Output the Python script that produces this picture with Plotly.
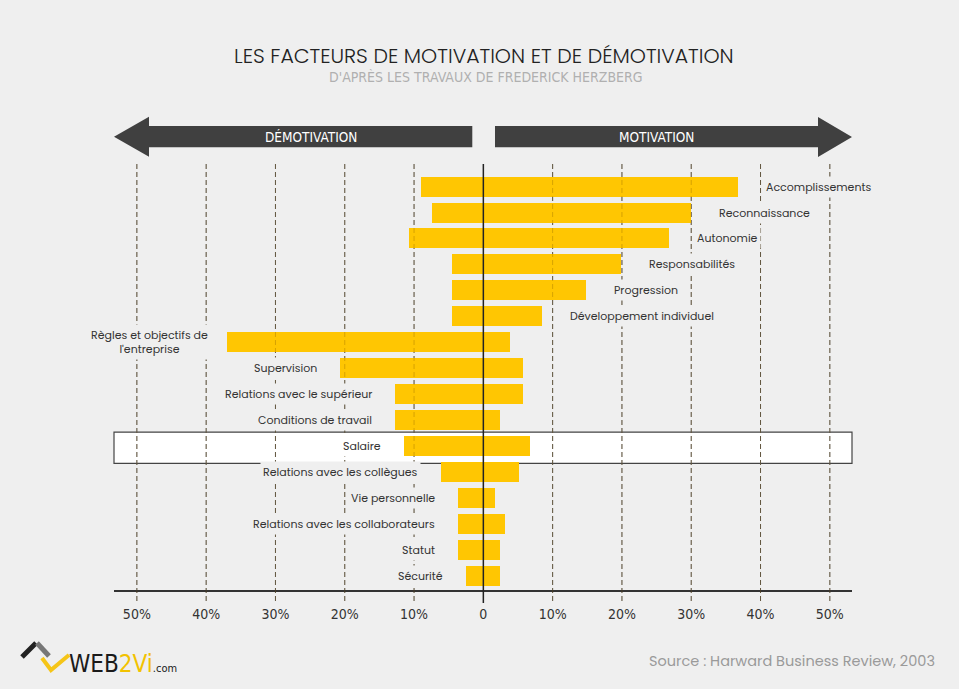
import plotly.graph_objects as go

# ---------------- data ----------------
categories = [
    "Accomplissements", "Reconnaissance", "Autonomie", "Responsabilités",
    "Progression", "Développement individuel", "Règles et objectifs de<br>l'entreprise",
    "Supervision", "Relations avec le supérieur", "Conditions de travail", "Salaire",
    "Relations avec les collègues", "Vie personnelle", "Relations avec les collaborateurs",
    "Statut", "Sécurité",
]
demotivation = [9.0, 7.4, 10.8, 4.5, 4.5, 4.5, 37.0, 20.7, 12.8, 12.8, 11.4, 6.1, 3.6, 3.6, 3.6, 2.5]
motivation = [36.8, 30.0, 26.8, 19.9, 14.8, 8.4, 3.9, 5.7, 5.7, 2.4, 6.7, 5.2, 1.7, 3.1, 2.4, 2.4]
tick_values = [-50, -40, -30, -20, -10, 0, 10, 20, 30, 40, 50]
tick_labels = ["50%", "40%", "30%", "20%", "10%", "0", "10%", "20%", "30%", "40%", "50%"]
highlight = "Salaire"

title = "LES FACTEURS DE MOTIVATION ET DE DÉMOTIVATION"
subtitle = "D'APRÈS LES TRAVAUX DE FREDERICK HERZBERG"
left_arrow_text = "DÉMOTIVATION"
right_arrow_text = "MOTIVATION"
source_text = "Source : Harward Business Review, 2003"

# ---------------- style / geometry ----------------
W, H = 959, 689
L, R, T, B = 114, 107, 163, 99
PW, PH = W - L - R, H - T - B
BG = "#efefef"
YELLOW = "#ffc602"
DARK = "#404040"
SANS = "Poppins, Inter, sans-serif"
NARROW = "Liberation Sans Narrow, DejaVu Sans Condensed, Arial Narrow, sans-serif"


def px(x):
    return (x - L) / PW


def py(y):
    return (H - B - y) / PH


ypos = list(range(len(categories)))
totals = [d + m for d, m in zip(demotivation, motivation)]
bases = [-d for d in demotivation]

fig = go.Figure()
fig.add_trace(go.Bar(
    y=ypos, x=totals, base=bases, orientation="h",
    marker=dict(color=YELLOW, line=dict(width=0)),
    width=0.77, hoverinfo="skip", showlegend=False,
))

shapes = []
hi = categories.index(highlight)
shapes.append(dict(type="rect", xref="paper", yref="y", x0=0, x1=1,
                   y0=hi - 0.53, y1=hi + 0.67, fillcolor="white",
                   line=dict(color="#444", width=1.2), layer="below"))
for v in tick_values:
    if v == 0:
        continue
    shapes.append(dict(type="line", xref="x", yref="paper", x0=v, x1=v,
                       y0=py(601), y1=py(162),
                       line=dict(color="#5a5a5a", width=1, dash="5px,3px"), layer="below"))
    shapes.append(dict(type="line", xref="x", yref="paper", x0=v, x1=v,
                       y0=py(601), y1=py(162),
                       line=dict(color="rgba(120,80,0,0.3)", width=1, dash="5px,3px"), layer="above"))
shapes.append(dict(type="line", xref="x", yref="paper", x0=0, x1=0,
                   y0=py(603), y1=py(164), line=dict(color="#222", width=1.5), layer="above"))


def poly(points):
    return "M " + " L ".join(f"{px(a):.5f},{py(b):.5f}" for a, b in points) + " Z"


left_arrow = [(114, 136.7), (149, 116.7), (149, 126), (472.3, 126), (472.3, 147.3),
              (149, 147.3), (149, 156.7)]
right_arrow = [(495, 126), (818, 126), (818, 117), (852, 137), (818, 157), (818, 147.3),
               (495, 147.3)]
for pts in (left_arrow, right_arrow):
    shapes.append(dict(type="path", xref="paper", yref="paper", path=poly(pts),
                       fillcolor=DARK, line=dict(width=0), layer="above"))

# logo glyph
shapes.append(dict(type="line", xref="paper", yref="paper", x0=px(22), y0=py(657),
                   x1=px(36), y1=py(643), line=dict(color="#222", width=5)))
shapes.append(dict(type="line", xref="paper", yref="paper", x0=px(37), y0=py(643),
                   x1=px(49), y1=py(656), line=dict(color="#777", width=5)))
shapes.append(dict(type="path", xref="paper", yref="paper",
                   path=f"M {px(42):.5f},{py(658):.5f} L {px(51):.5f},{py(670):.5f} L {px(69):.5f},{py(655):.5f}",
                   line=dict(color="#f5c518", width=4)))

annotations = []
for i, (c, d, m) in enumerate(zip(categories, demotivation, motivation)):
    right_side = m >= d
    annotations.append(dict(
        x=m if right_side else -d, y=i, xref="x", yref="y",
        text=c, showarrow=False,
        xanchor="left" if right_side else "right",
        xshift=25 if right_side else (-16 if "<br>" in c else -20),
        align="center",
        font=dict(family=SANS, size=11, color="#333"),
        bgcolor="white" if c == highlight else BG, borderpad=2,
    ))

annotations.append(dict(x=px(483.5), y=py(55.5), xref="paper", yref="paper", text=title,
                        showarrow=False, xanchor="center", yanchor="middle", borderpad=0,
                        font=dict(family=SANS, size=20.5, color="#222", weight=300)))
annotations.append(dict(x=px(486), y=py(76.5), xref="paper", yref="paper", text=subtitle,
                        showarrow=False, xanchor="center", yanchor="middle", borderpad=0,
                        font=dict(family=NARROW, size=14, color="#b0b0b0")))
annotations.append(dict(x=px(310.5), y=py(137), xref="paper", yref="paper", text=left_arrow_text,
                        showarrow=False, xanchor="center", yanchor="middle",
                        font=dict(family=NARROW, size=13.5, color="white")))
annotations.append(dict(x=px(656.5), y=py(137), xref="paper", yref="paper", text=right_arrow_text,
                        showarrow=False, xanchor="center", yanchor="middle",
                        font=dict(family=NARROW, size=13.5, color="white")))
annotations.append(dict(x=px(67), y=py(664), xref="paper", yref="paper",
                        text="WEB<span style='color:#f2c200'>2Vi</span><span style='font-size:11px'>.com</span>",
                        showarrow=False, xanchor="left", yanchor="middle",
                        font=dict(family=NARROW, size=24, color="#1a1a1a")))
annotations.append(dict(x=px(937), y=py(661), xref="paper", yref="paper", text=source_text,
                        showarrow=False, xanchor="right", yanchor="middle",
                        font=dict(family=SANS, size=14.5, color="#9a9a9a")))

fig.update_layout(
    width=W, height=H,
    margin=dict(l=L, r=R, t=T, b=B, pad=0),
    paper_bgcolor=BG, plot_bgcolor="rgba(0,0,0,0)",
    bargap=0, showlegend=False,
    shapes=shapes, annotations=annotations,
    xaxis=dict(range=[-53.3, 53.2], tickvals=tick_values, ticktext=tick_labels,
               showgrid=False, zeroline=False, showline=True, linecolor="#333", linewidth=1.5,
               ticks="outside", ticklen=10, tickcolor="rgba(0,0,0,0)",
               tickfont=dict(family=NARROW, size=14, color="#333"), fixedrange=True),
    yaxis=dict(range=[15.557, -0.91], visible=False, showgrid=False, zeroline=False,
               fixedrange=True),
)

fig.write_html("out.html", config={"displayModeBar": False},
               post_script="document.body.style.margin='0';document.body.style.padding='0';"
                           "document.body.style.background='#efefef';")
